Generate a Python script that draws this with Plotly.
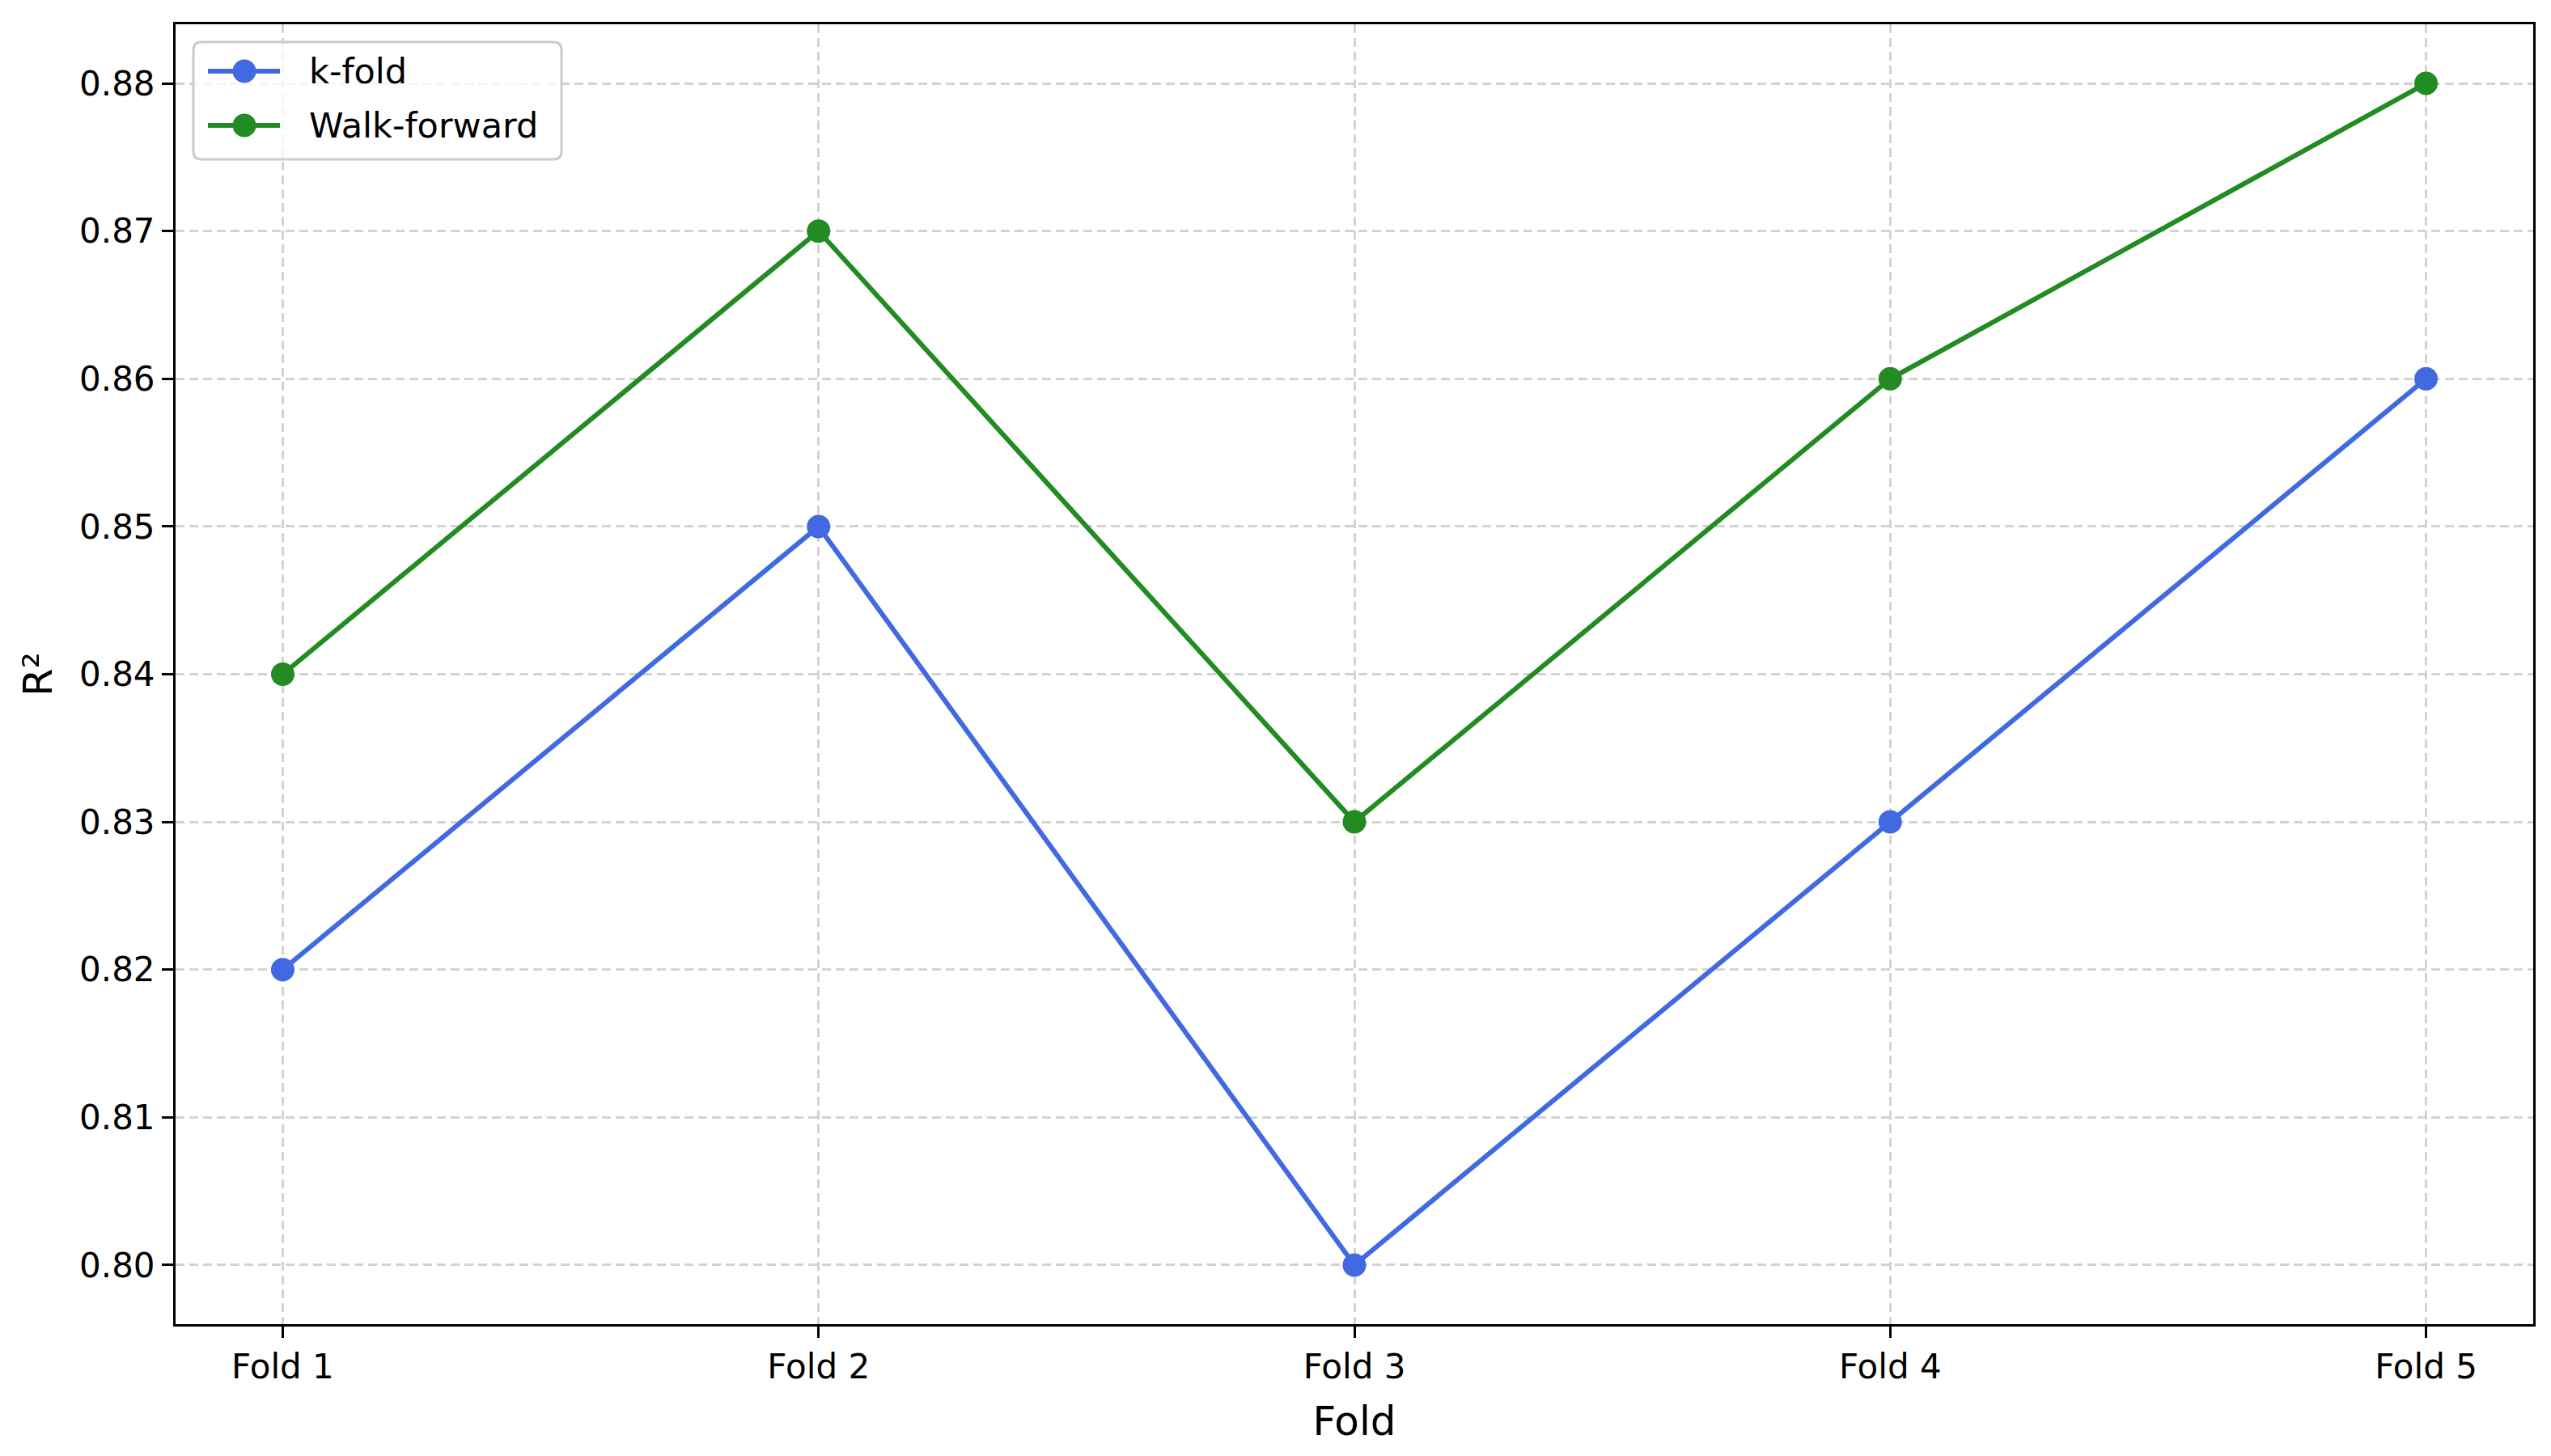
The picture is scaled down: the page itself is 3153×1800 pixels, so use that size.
import plotly.graph_objects as go

folds = ["Fold 1", "Fold 2", "Fold 3", "Fold 4", "Fold 5"]
kfold_r2 = [0.82, 0.85, 0.80, 0.83, 0.86]
walk_forward_r2 = [0.84, 0.87, 0.83, 0.86, 0.88]
y_ticks = [0.80, 0.81, 0.82, 0.83, 0.84, 0.85, 0.86, 0.87, 0.88]

series_names = ["k-fold", "Walk-forward"]
series_colors = ["#4169E1", "#228B22"]

FONT = "DejaVu Sans"

# Intended plot-area position in the photographed image (pixels)
IMG_L, IMG_T, IMG_R, IMG_B = 217, 30, 3131, 1637
PW, PH = IMG_R - IMG_L, IMG_B - IMG_T
SHIFT = 8  # page offset of the figure inside the browser


def px(x):
    return (x - IMG_L) / PW


def py(y):
    return (IMG_B - y) / PH


fig = go.Figure()
for name, vals, col in zip(series_names, [kfold_r2, walk_forward_r2], series_colors):
    fig.add_trace(go.Scatter(
        x=list(range(len(folds))), y=vals, mode="lines+markers", name=name,
        line=dict(color=col, width=6),
        marker=dict(color=col, size=29),
        showlegend=False,
    ))

# Legend drawn as a matplotlib-style rounded box
bx0, by0, bx1, by1, rad = 239, 52, 694, 197, 10
rx, ry = rad / PW, rad / PH
X0, X1, Y0, Y1 = px(bx0), px(bx1), py(by1), py(by0)
path = (f"M {X0+rx},{Y1} L {X1-rx},{Y1} Q {X1},{Y1} {X1},{Y1-ry} "
        f"L {X1},{Y0+ry} Q {X1},{Y0} {X1-rx},{Y0} L {X0+rx},{Y0} "
        f"Q {X0},{Y0} {X0},{Y0+ry} L {X0},{Y1-ry} Q {X0},{Y1} {X0+rx},{Y1} Z")
shapes = [dict(type="path", xref="paper", yref="paper", path=path,
               fillcolor="rgba(255,255,255,0.8)", line=dict(color="#cccccc", width=3),
               layer="above")]
annotations = []
rows = [88, 155]
for name, col, ry_img in zip(series_names, series_colors, rows):
    shapes.append(dict(type="line", xref="paper", yref="paper",
                       x0=px(257), x1=px(346), y0=py(ry_img), y1=py(ry_img),
                       line=dict(color=col, width=6), layer="above"))
    r = 14.5
    shapes.append(dict(type="circle", xref="paper", yref="paper",
                       x0=px(302 - r), x1=px(302 + r), y0=py(ry_img + r), y1=py(ry_img - r),
                       fillcolor=col, line=dict(color=col, width=0), layer="above"))
    annotations.append(dict(xref="paper", yref="paper", x=px(380), y=py(ry_img),
                            xanchor="left", yanchor="middle", showarrow=False,
                            text=name, font=dict(family=FONT, size=43, color="black")))

axis_common = dict(
    showline=True, linecolor="black", linewidth=3, mirror=True,
    ticks="outside", ticklen=14, tickwidth=3, tickcolor="black",
    showgrid=True, gridcolor="#d3d3d3", gridwidth=3, griddash="11px,6px",
    zeroline=False,
    tickfont=dict(family=FONT, size=42, color="black"),
)

fig.update_layout(
    width=3153, height=1800,
    margin=dict(l=IMG_L - SHIFT, r=3153 - IMG_R + SHIFT, t=IMG_T - SHIFT, b=1800 - IMG_B + SHIFT),
    paper_bgcolor="white", plot_bgcolor="white",
    font=dict(family=FONT, size=42, color="black"),
    showlegend=False,
    shapes=shapes,
    annotations=annotations,
    xaxis=dict(
        **axis_common,
        range=[-0.2, 4.2],
        tickmode="array", tickvals=list(range(len(folds))), ticktext=folds,
        title=dict(text="Fold", font=dict(family=FONT, size=50, color="black"), standoff=26),
    ),
    yaxis=dict(
        **axis_common,
        range=[0.796, 0.884],
        tickmode="array", tickvals=y_ticks, ticktext=[f"{v:.2f}" for v in y_ticks],
        title=dict(text="R²", font=dict(family=FONT, size=50, color="black"), standoff=18),
    ),
)

fig.write_html("out.html")
